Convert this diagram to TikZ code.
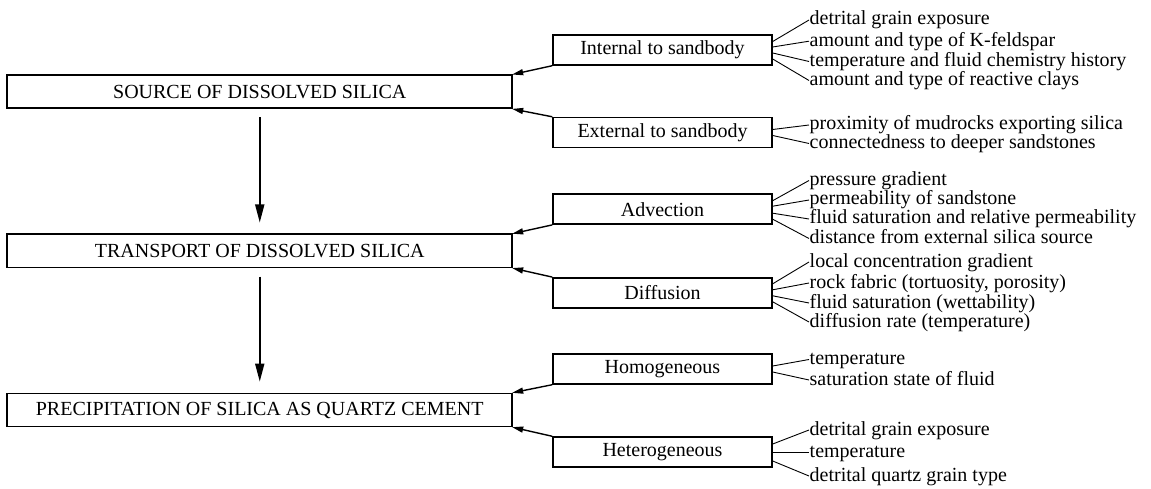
\documentclass[tikz,border=0pt]{standalone}
\usepackage{fontspec}
\setmainfont{Liberation Serif}
\usetikzlibrary{arrows.meta}
\begin{document}
\begin{tikzpicture}[x=1pt,y=-1pt,
  mainbox/.style={draw,line width=1.8pt,minimum width=505pt,minimum height=33pt,inner sep=0pt,font=\fontsize{20}{20}\selectfont},
  subbox/.style={draw,line width=1.4pt,minimum width=219pt,minimum height=30pt,inner sep=0pt,font=\fontsize{20}{20}\selectfont},
  factor/.style={anchor=west,inner sep=0.5pt,font=\fontsize{20}{20}\selectfont,text height=14pt,text depth=4pt},
  fan/.style={line width=0.9pt},
  flow/.style={line width=1.8pt,-{Triangle[length=18pt,width=9pt]},shorten <=8.4pt,shorten >=11pt},
  feed/.style={line width=1.4pt,-{Triangle[length=11pt,width=6pt]},shorten >=-1pt}]
\useasboundingbox (0,0) rectangle (1151,489);
% main boxes
\node[mainbox] (src) at (259.75,91.7) {SOURCE OF DISSOLVED SILICA};
\node[mainbox] (trn) at (259.75,250.9) {TRANSPORT OF DISSOLVED SILICA};
\node[mainbox] (pre) at (259.75,410) {PRECIPITATION OF SILICA AS QUARTZ CEMENT};
\draw[flow] (src.south) -- (trn.north);
\draw[flow] (trn.south) -- (pre.north);
% sub boxes
\node[subbox] (int) at (662.5,50) {Internal to sandbody};
\node[subbox] (ext) at (662.5,132.5) {External to sandbody};
\node[subbox] (adv) at (662.5,209.2) {Advection};
\node[subbox] (dif) at (662.5,292.8) {Diffusion};
\node[subbox] (hom) at (662.5,369) {Homogeneous};
\node[subbox] (het) at (662.5,452) {Heterogeneous};
\draw[feed] (int.south west) -- (src.north east);
\draw[feed] (ext.north west) -- (src.south east);
\draw[feed] (adv.south west) -- (trn.north east);
\draw[feed] (dif.north west) -- (trn.south east);
\draw[feed] (hom.south west) -- (pre.north east);
\draw[feed] (het.north west) -- (pre.south east);
% factors: internal
\node[factor] (i1) at (809,20) {detrital grain exposure};
\node[factor] (i2) at (809,41.2) {amount and type of K-feldspar};
\node[factor] (i3) at (809,61.5) {temperature and fluid chemistry history};
\node[factor] (i4) at (809,80.5) {amount and type of reactive clays};
\draw[fan] ([yshift=8.5pt]int.east) -- (i1.west);
\draw[fan] ([yshift=3pt]int.east) -- (i2.west);
\draw[fan] ([yshift=-3pt]int.east) -- (i3.west);
\draw[fan] ([yshift=-9pt]int.east) -- (i4.west);
% external
\node[factor] (e1) at (809,125) {proximity of mudrocks exporting silica};
\node[factor] (e2) at (809,143.5) {connectedness to deeper sandstones};
\draw[fan] ([yshift=3pt]ext.east) -- (e1.west);
\draw[fan] ([yshift=-3pt]ext.east) -- (e2.west);
% advection
\node[factor] (a1) at (809,180.5) {pressure gradient};
\node[factor] (a2) at (809,200) {permeability of sandstone};
\node[factor] (a3) at (809,219) {fluid saturation and relative permeability};
\node[factor] (a4) at (809,238.5) {distance from external silica source};
\draw[fan] ([yshift=8.5pt]adv.east) -- (a1.west);
\draw[fan] ([yshift=3pt]adv.east) -- (a2.west);
\draw[fan] ([yshift=-4pt]adv.east) -- (a3.west);
\draw[fan] ([yshift=-10pt]adv.east) -- (a4.west);
% diffusion
\node[factor] (d1) at (809,262) {local concentration gradient};
\node[factor] (d2) at (809,283) {rock fabric (tortuosity, porosity)};
\node[factor] (d3) at (809,303) {fluid saturation (wettability)};
\node[factor] (d4) at (809,322) {diffusion rate (temperature)};
\draw[fan] ([yshift=9pt]dif.east) -- (d1.west);
\draw[fan] ([yshift=3pt]dif.east) -- (d2.west);
\draw[fan] ([yshift=-3pt]dif.east) -- (d3.west);
\draw[fan] ([yshift=-9pt]dif.east) -- (d4.west);
% homogeneous
\node[factor] (h1) at (809,359.5) {temperature};
\node[factor] (h2) at (809,380) {saturation state of fluid};
\draw[fan] ([yshift=3pt]hom.east) -- (h1.west);
\draw[fan] ([yshift=-3pt]hom.east) -- (h2.west);
% heterogeneous
\node[factor] (t1) at (809,430) {detrital grain exposure};
\node[factor] (t2) at (809,452) {temperature};
\node[factor] (t3) at (809,476) {detrital quartz grain type};
\draw[fan] ([yshift=8pt]het.east) -- (t1.west);
\draw[fan] (het.east) -- (t2.west);
\draw[fan] ([yshift=-9pt]het.east) -- (t3.west);
\end{tikzpicture}
\end{document}
